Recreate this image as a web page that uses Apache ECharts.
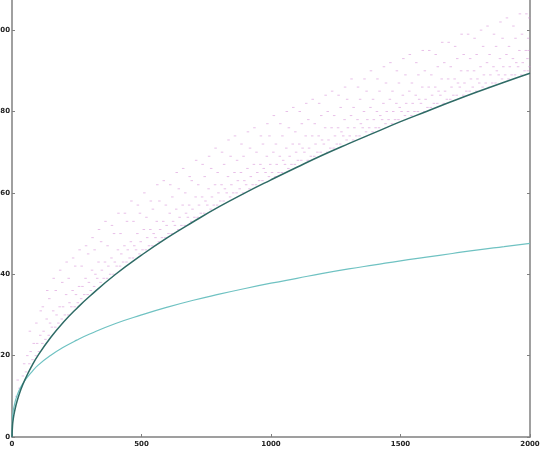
<!DOCTYPE html>
<html>
<head>
<meta charset="utf-8">
<script src="https://cdn.jsdelivr.net/npm/echarts@6/dist/echarts.min.js"></script>
<style>html,body{margin:0;padding:0;background:#fff}#c{width:540px;height:451px}</style>
</head>
<body>
<div id="c"></div>
<script>
// x positions where the two curves were read
const curveX = [0,2,5,10,20,35,50,75,100,150,200,250,300,400,500,600,700,800,900,1000,1100,1200,1300,1400,1500,1600,1700,1800,1900,2000];
// dark (upper) curve values
const darkY = [0,2.8,4.5,6.3,8.9,11.8,14.1,17.3,20,24.5,28.3,31.6,34.6,40,44.7,49,52.9,56.6,60,63.2,66.3,69.3,72.1,74.8,77.5,80,82.5,84.9,87.2,89.4];
// cyan (lower) curve values
const cyanY = [0,4.8,6.5,8.1,10.3,12.4,13.9,15.9,17.6,20.1,22.1,23.8,25.3,27.9,30,31.9,33.6,35.1,36.5,37.8,39,40.2,41.3,42.3,43.3,44.2,45.1,46,46.8,47.6];
// scattered points (estimated)
const dots = [
[17,10],[29,12],[22,14],
[42,15],[54,16],[47,18],[59,20],
[67,18],[79,19],[72,21],[84,23],[69,26],
[92,20],[104,21],[97,23],[109,25],[94,28],[111,31],
[117,23],[129,24],[122,26],[134,29],[119,32],[136,36],
[142,25],[154,27],[147,28],[159,31],[144,34],[161,39],
[167,27],[179,28],[172,30],[184,32],[169,36],[186,41],
[192,29],[204,30],[197,32],[209,35],[194,38],[211,43],
[217,30],[229,32],[222,33],[234,36],[219,39],[236,44],
[242,32],[254,33],[247,35],[259,37],[244,42],[261,46],
[267,34],[279,35],[272,37],[284,39],[269,42],[286,47],
[292,35],[304,36],[297,38],[309,41],[294,45],[311,49],
[317,37],[329,39],[322,40],[334,43],[319,46],[336,51],
[342,38],[354,39],[347,41],[359,43],[344,48],[361,53],
[367,39],[379,40],[372,42],[384,44],[369,47],[386,52],
[392,40],[404,42],[397,43],[409,46],[394,50],[411,55],
[417,42],[429,43],[422,45],[434,47],[419,50],[436,55],
[442,43],[454,44],[447,46],[459,48],[444,53],[461,58],
[467,44],[479,46],[472,47],[484,50],[469,53],[486,57],
[492,45],[504,46],[497,48],[509,51],[494,55],[511,60],
[517,46],[529,47],[522,49],[534,51],[519,54],[536,58],
[542,47],[554,49],[547,50],[559,53],[544,56],[561,62],
[567,48],[579,49],[572,51],[584,53],[569,58],[586,63],
[592,49],[604,50],[597,52],[609,55],[594,57],[611,62],
[617,50],[629,52],[622,53],[634,56],[619,59],[636,65],
[642,51],[654,52],[647,54],[659,57],[644,61],[661,66],
[667,52],[679,54],[672,55],[684,57],[669,60],[686,64],
[692,53],[704,54],[697,56],[709,59],[694,63],[711,68],
[717,54],[729,55],[722,57],[734,59],[719,62],[736,67],
[742,55],[754,57],[747,58],[759,61],[744,64],[761,69],
[767,56],[779,57],[772,59],[784,62],[769,66],[786,71],
[792,57],[804,58],[797,60],[809,62],[794,65],[811,70],
[817,58],[829,60],[822,61],[834,64],[819,67],[836,73],
[842,59],[854,60],[847,62],[859,65],[844,69],[861,74],
[867,60],[879,61],[872,63],[884,65],[869,68],[886,72],
[892,60],[904,62],[897,63],[909,66],[894,69],[911,75],
[917,61],[929,62],[922,64],[934,67],[919,71],[936,76],
[942,62],[954,63],[947,65],[959,67],[944,70],[961,74],
[967,63],[979,65],[972,66],[984,69],[969,72],[986,77],
[992,64],[1004,65],[997,67],[1009,70],[994,74],[1011,79],
[1017,64],[1029,65],[1022,67],[1034,69],[1019,72],[1036,77],
[1042,65],[1054,67],[1047,68],[1059,71],[1044,74],[1061,80],
[1067,66],[1079,67],[1072,69],[1084,72],[1069,76],[1086,81],
[1092,67],[1104,68],[1097,70],[1109,72],[1094,75],[1111,80],
[1117,68],[1129,70],[1122,71],[1134,74],[1119,77],[1136,82],
[1142,68],[1154,69],[1147,71],[1159,74],[1144,78],[1161,83],
[1167,69],[1179,70],[1172,72],[1184,74],[1169,77],[1186,82],
[1192,70],[1204,72],[1197,73],[1209,76],[1194,79],[1211,84],
[1217,70],[1229,71],[1222,73],[1234,76],[1219,80],[1236,85],
[1242,71],[1254,72],[1247,74],[1259,76],[1244,79],[1261,84],
[1267,72],[1279,74],[1272,75],[1284,78],[1269,81],[1286,86],
[1292,73],[1304,74],[1297,76],[1309,79],[1294,83],[1311,88],
[1317,73],[1329,74],[1322,76],[1334,78],[1319,81],[1336,86],
[1342,74],[1354,76],[1347,77],[1359,80],[1344,83],[1361,88],
[1367,75],[1379,76],[1372,78],[1384,81],[1369,85],[1386,90],
[1392,75],[1404,76],[1397,78],[1409,80],[1394,83],[1411,88],
[1417,76],[1429,78],[1422,79],[1434,82],[1419,85],[1436,91],
[1442,77],[1454,78],[1447,80],[1459,83],[1444,87],[1461,92],
[1467,77],[1479,78],[1472,80],[1484,82],[1469,85],[1486,90],
[1492,78],[1504,80],[1497,81],[1509,84],[1494,87],[1511,93],
[1517,79],[1529,80],[1522,82],[1534,85],[1519,89],[1536,94],
[1542,79],[1554,80],[1547,82],[1559,84],[1544,87],[1561,92],
[1567,80],[1579,82],[1572,83],[1584,86],[1569,89],[1586,95],
[1592,80],[1604,81],[1597,83],[1609,86],[1594,90],[1611,95],
[1617,81],[1629,82],[1622,84],[1634,86],[1619,89],[1636,94],
[1642,82],[1654,84],[1647,85],[1659,88],[1644,91],[1661,97],
[1667,82],[1679,83],[1672,85],[1684,88],[1669,92],[1686,97],
[1692,83],[1704,84],[1697,86],[1709,88],[1694,91],[1711,96],
[1717,84],[1729,86],[1722,87],[1734,90],[1719,93],[1736,99],
[1742,84],[1754,85],[1747,87],[1759,90],[1744,94],[1761,99],
[1767,85],[1779,86],[1772,88],[1784,90],[1769,93],[1786,98],
[1792,85],[1804,87],[1797,88],[1809,91],[1794,94],[1811,100],
[1817,86],[1829,87],[1822,89],[1834,92],[1819,96],[1836,101],
[1842,86],[1854,87],[1847,89],[1859,91],[1844,94],[1861,99],
[1867,87],[1879,89],[1872,90],[1884,93],[1869,96],[1886,102],
[1892,88],[1904,89],[1897,91],[1909,94],[1894,98],[1911,103],
[1917,88],[1929,89],[1922,91],[1934,93],[1919,96],[1936,101],
[1942,89],[1954,91],[1947,92],[1959,95],[1944,98],[1961,104],
[1967,89],[1979,90],[1972,92],[1984,95],[1969,99],[1986,104],
[1992,90],[1998,91],[1990,93],[1995,95],[1993,98],[1997,103]
];
const xTicks = [0,500,1000,1500,2000];
const yTicks = [0,20,40,60,80,100];

const chart = echarts.init(document.getElementById('c'), null, {renderer:'canvas'});
const axisLine = {show:true, lineStyle:{color:'#808080', width:1.5}};
const labelStyle = {color:'#222', fontSize:7, fontFamily:'DejaVu Sans', fontWeight:'bold', formatter:v=>String(v)};
chart.setOption({
  animation:false,
  backgroundColor:'#fff',
  grid:{left:12, right:10, top:0, bottom:14, containLabel:false, outerBoundsMode:'none'},
  xAxis:{type:'value', min:0, max:2000, interval:500,
    axisLine:axisLine, splitLine:{show:false},
    axisTick:{show:true, inside:true, length:3, lineStyle:{color:'#808080'}, customValues:xTicks},
    axisLabel:Object.assign({margin:4, customValues:xTicks, hideOverlap:false}, labelStyle)},
  yAxis:[
    {type:'value', min:0, max:107.4, position:'left',
      axisLine:axisLine, splitLine:{show:false},
      axisTick:{show:true, inside:true, length:3, lineStyle:{color:'#808080'}, customValues:yTicks},
      axisLabel:Object.assign({margin:2, customValues:yTicks}, labelStyle)},
    {type:'value', min:0, max:107.4, position:'right',
      axisLine:axisLine, splitLine:{show:false},
      axisTick:{show:true, inside:true, length:3, lineStyle:{color:'#808080'}, customValues:yTicks},
      axisLabel:{show:false}}
  ],
  series:[
    {type:'scatter', data:dots, symbol:'rect', symbolSize:[2.5,1],
      itemStyle:{color:'#d68bd6', opacity:0.55}, silent:true, z:1},
    {type:'line', data:curveX.map((x,i)=>[x,cyanY[i]]), smooth:true, showSymbol:false,
      lineStyle:{color:'#6fc2c2', width:1.2}, z:2},
    {type:'line', data:curveX.map((x,i)=>[x,darkY[i]]), smooth:true, showSymbol:false,
      lineStyle:{color:'#2f6b66', width:1.5}, z:3}
  ]
});
</script>
</body>
</html>
